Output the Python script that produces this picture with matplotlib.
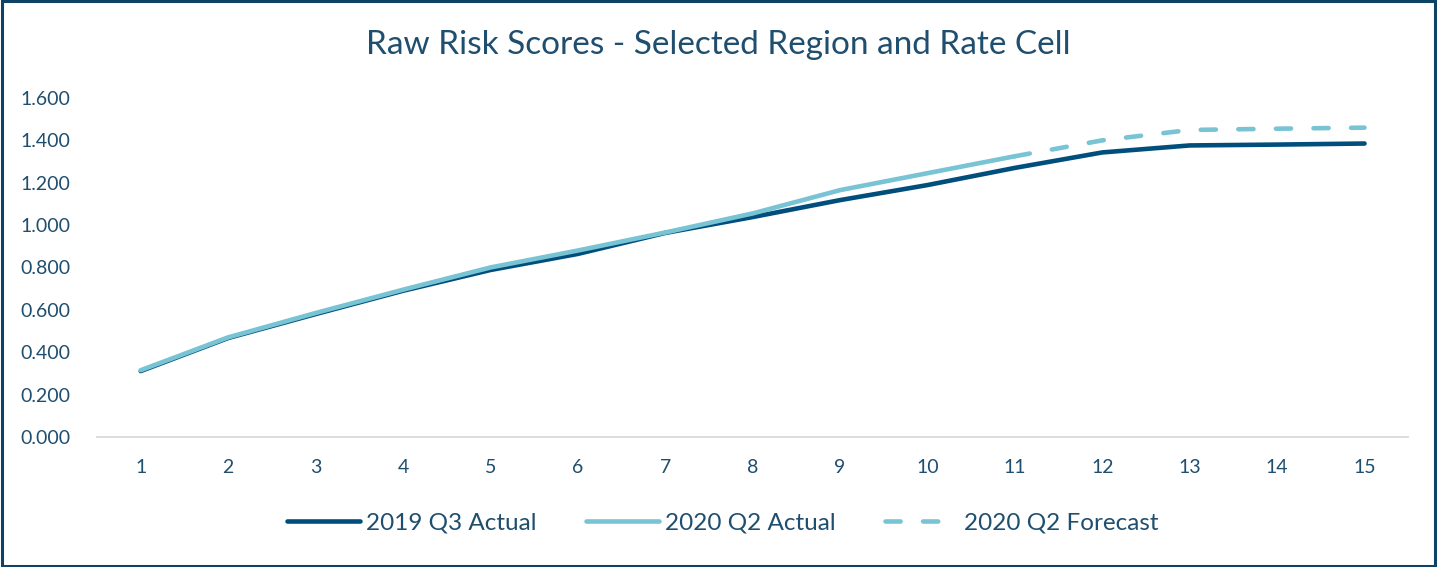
import matplotlib.pyplot as plt
from matplotlib.patches import Rectangle

plt.rcParams['font.family'] = ['Lato', 'DejaVu Sans']

periods = list(range(1, 16))
actual_2019q3 = [0.311, 0.467, 0.580, 0.690, 0.788, 0.864, 0.963, 1.038, 1.118, 1.189, 1.270, 1.343, 1.376, 1.380, 1.385]
actual_2020q2 = [0.315, 0.470, 0.585, 0.695, 0.800, 0.880, 0.965, 1.055, 1.165, 1.245, 1.325]
forecast_2020q2 = [1.325, 1.400, 1.449, 1.455, 1.460]

dark = '#004E7C'
light = '#78C3D4'
txt = '#1F4E6E'

fig = plt.figure(figsize=(14.37, 5.67), dpi=100)
ax = fig.add_axes([0.0675, 0.2293, 0.9125, 0.5979])

ax.plot(periods, actual_2019q3, color=dark, lw=3.3, solid_capstyle='round',
        label='2019 Q3 Actual', zorder=3)
ax.plot(periods[:11], actual_2020q2, color=light, lw=3.3, solid_capstyle='round',
        label='2020 Q2 Actual', zorder=4)
ax.plot(periods[10:], forecast_2020q2, color=light, lw=3.3, ls=(0, (3.3, 4.9)),
        dash_capstyle='round', label='2020 Q2 Forecast', zorder=4)

ax.set_xlim(0.5, 15.5)
ax.set_ylim(0, 1.6)
ax.set_xticks(periods)
ax.set_yticks([i * 0.2 for i in range(9)])
ax.set_yticklabels([f'{i * 0.2:.3f}' for i in range(9)])
for s in ['top', 'right', 'left']:
    ax.spines[s].set_visible(False)
ax.spines['bottom'].set_color('#D9D9D9')
ax.spines['bottom'].set_linewidth(1.3)
ax.tick_params(length=0, labelsize=14, colors=txt)
ax.tick_params(axis='x', pad=16)
for lab in ax.get_yticklabels():
    lab.set_horizontalalignment('left')
ax.yaxis.set_tick_params(pad=55)

fig.text(0.5, 0.92, 'Raw Risk Scores - Selected Region and Rate Cell',
         ha='center', va='center', fontsize=24, color=txt)

fig.legend(loc='center', bbox_to_anchor=(0.503, 0.077), ncol=3, frameon=False,
           fontsize=17.5, labelcolor=txt, handlelength=3.0, handletextpad=0.25,
           columnspacing=2.05)

fig.patches.append(Rectangle((0.0015, 0.0025), 0.997, 0.995, transform=fig.transFigure,
                             fill=False, edgecolor='#0E4365', lw=2.2))

fig.savefig('out.png', dpi=100)
